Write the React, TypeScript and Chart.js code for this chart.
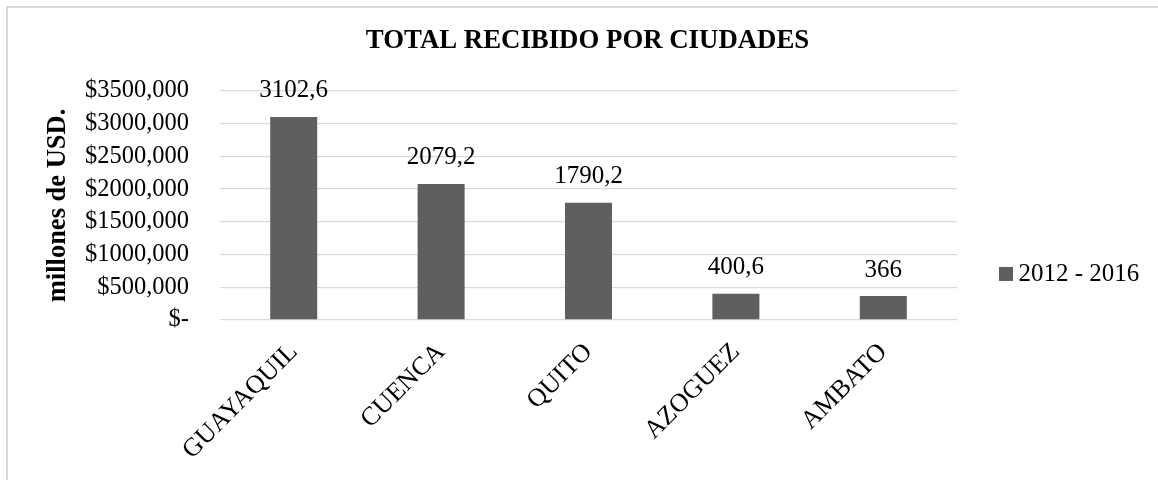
import React, { useEffect, useRef } from "react";
import { Chart, registerables } from "chart.js";

Chart.register(...registerables);

const chartTitle = "TOTAL RECIBIDO POR CIUDADES";
const yAxisTitle = "millones de USD.";
const seriesName = "2012 - 2016";
const categories = ["GUAYAQUIL", "CUENCA", "QUITO", "AZOGUEZ", "AMBATO"];
const values = [3102.6, 2079.2, 1790.2, 400.6, 366];
const valueLabels = ["3102,6", "2079,2", "1790,2", "400,6", "366"];
const yMin = 0;
const yMax = 3500;
const yStep = 500;

const FONT = "'Liberation Serif', 'Times New Roman', serif";
const BAR_COLOR = "#5f5f5f";
const GRID_COLOR = "#d9d9d9";

const formatTick = (v: number) => (v === 0 ? "$-" : "$" + v + ",000");

const dataLabelPlugin = {
  id: "dataLabels",
  afterDatasetsDraw(chart: any) {
    const ctx = chart.ctx;
    const meta = chart.getDatasetMeta(0);
    ctx.save();
    ctx.font = `25px ${FONT}`;
    ctx.fillStyle = "#000";
    ctx.textAlign = "center";
    ctx.textBaseline = "alphabetic";
    meta.data.forEach((bar: any, i: number) => {
      ctx.fillText(valueLabels[i], bar.x, bar.y - 19.5);
    });
    ctx.restore();
  },
};

const customLegendPlugin = {
  id: "customLegend",
  afterDraw(chart: any) {
    const ctx = chart.ctx;
    const area = chart.chartArea;
    const x = area.right + 42;
    const cy = area.top + 183;
    ctx.save();
    ctx.fillStyle = BAR_COLOR;
    ctx.fillRect(x, cy - 7, 14, 14);
    ctx.font = `25px ${FONT}`;
    ctx.fillStyle = "#000";
    ctx.textAlign = "left";
    ctx.textBaseline = "middle";
    ctx.fillText(seriesName, x + 19.5, cy);
    ctx.restore();
  },
};

export default function App() {
  const ref = useRef<HTMLCanvasElement>(null);

  useEffect(() => {
    if (!ref.current) return;
    const chart = new Chart(ref.current, {
      type: "bar",
      data: {
        labels: categories,
        datasets: [
          {
            label: seriesName,
            data: values,
            backgroundColor: BAR_COLOR,
            borderWidth: 0,
            categoryPercentage: 1,
            barPercentage: 0.319,
          },
        ],
      },
      options: {
        animation: false,
        responsive: false,
        devicePixelRatio: 1,
        layout: { padding: { left: 17, right: 0, top: 0, bottom: 0 } },
        plugins: {
          legend: { display: false },
          tooltip: { enabled: false },
          title: {
            display: true,
            text: chartTitle,
            color: "#000",
            font: { family: FONT, size: 26.8, weight: "bold", lineHeight: 1.2 },
            padding: { top: 25.2, bottom: 33.6 },
          },
        },
        scales: {
          x: {
            grid: { display: false },
            border: { display: false },
            ticks: {
              autoSkip: false,
              minRotation: 45,
              maxRotation: 45,
              color: "#000",
              padding: 9,
              font: { family: FONT, size: 26 },
            },
            afterFit: (s: any) => {
              s.height = 160;
            },
          },
          y: {
            min: yMin,
            max: yMax,
            grid: { color: GRID_COLOR, lineWidth: 1.3, drawTicks: false },
            border: { display: false },
            ticks: {
              stepSize: yStep,
              color: "#000",
              padding: 31,
              font: { family: FONT, size: 24.5 },
              callback: (v: any) => formatTick(Number(v)),
            },
            title: {
              display: true,
              text: yAxisTitle,
              color: "#000",
              font: { family: FONT, size: 26.5, weight: "bold", lineHeight: 1.2 },
              padding: { top: 25.1, bottom: 0 },
            },
            afterFit: (s: any) => {
              s.width = 203;
            },
          },
          legendSpace: {
            type: "linear",
            position: "right",
            display: true,
            grid: { display: false },
            border: { display: false },
            ticks: { display: false },
            afterFit: (s: any) => {
              s.width = 201;
            },
          },
        },
      } as any,
      plugins: [dataLabelPlugin, customLegendPlugin],
    });
    return () => chart.destroy();
  }, []);

  return (
    <div
      style={{
        position: "fixed",
        left: 0,
        top: 0,
        width: 1158,
        height: 480,
        background: "#fff",
        overflow: "hidden",
      }}
    >
      <div
        style={{
          position: "absolute",
          left: 6,
          top: 6,
          width: 1200,
          height: 520,
          borderTop: `2px solid ${GRID_COLOR}`,
          borderLeft: `2px solid ${GRID_COLOR}`,
        }}
      />
      <canvas
        ref={ref}
        width={1158}
        height={480}
        style={{ position: "absolute", left: 0, top: 0, width: 1158, height: 480 }}
      />
    </div>
  );
}
